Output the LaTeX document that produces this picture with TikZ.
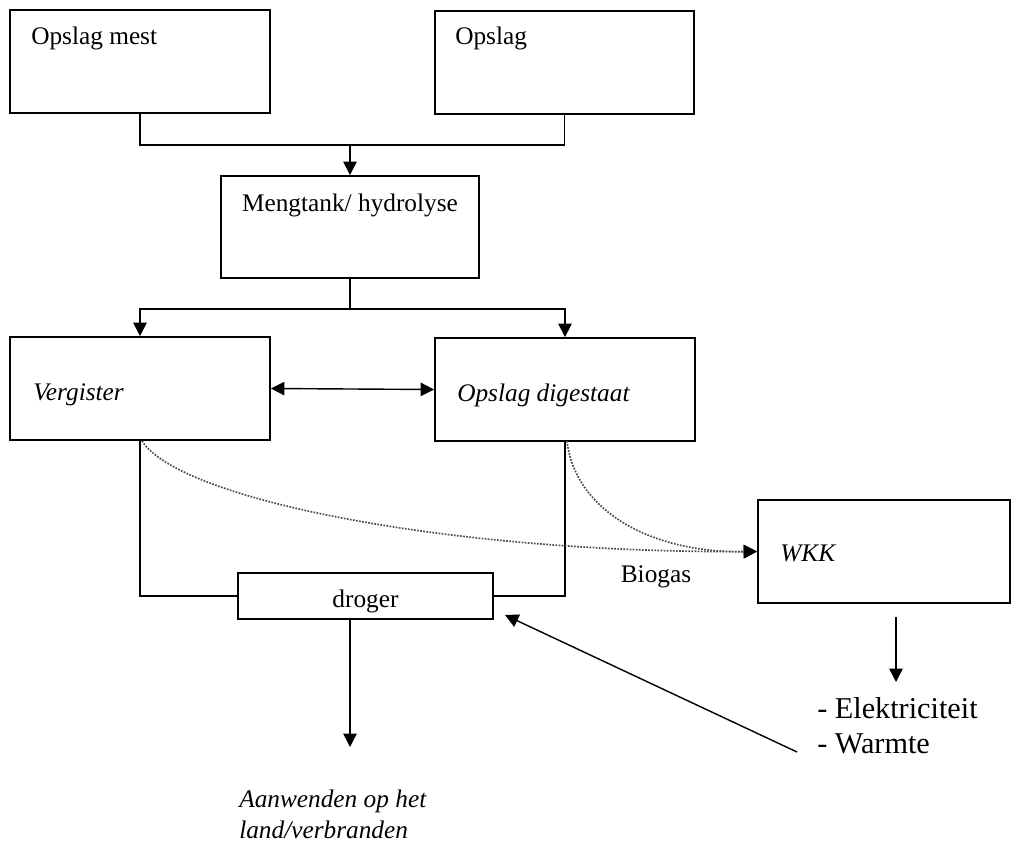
\documentclass[tikz,border=0pt]{standalone}
\usepackage{fontspec}
\setmainfont{Liberation Serif}
\usetikzlibrary{arrows.meta}

\begin{document}
\begin{tikzpicture}[
  x=0.025cm, y=-0.025cm,
  font=\fontsize{18}{22}\selectfont,
  box/.style={draw, line width=1.3pt, rectangle, minimum height=2.575cm,
              inner sep=0pt},
  txt/.style={anchor=west, inner sep=0pt},
  itxt/.style={txt, font=\fontsize{18}{22}\selectfont\itshape},
  ln/.style={line width=1pt},
  arr/.style={-{Triangle[length=9.5pt,width=9.5pt]}, line width=1pt},
  darr/.style={{Triangle[length=9.5pt,width=9.5pt]}-{Triangle[length=9.5pt,width=9.5pt]},
               line width=1pt},
  gas/.style={-{Triangle[length=9.5pt,width=9.5pt,color=black]}, densely dotted,
              black!70, line width=1.2pt},
]
  \useasboundingbox (0,0) rectangle (1011,844);

  % --- Boxes ---
  \node[box, minimum width=6.5cm] at (140,61.5) (mest) {};
  \node[box, minimum width=6.475cm] at (564.5,62.5) (opslag) {};
  \node[box, minimum width=6.45cm, minimum height=2.55cm] at (350,227) (meng) {};
  \node[box, minimum width=6.5cm] at (140,388.5) (verg) {};
  \node[box, minimum width=6.5cm] at (565,389.5) (dig) {};
  \node[box, minimum width=6.3cm] at (884,551.5) (wkk) {};
  \node[box, minimum width=6.375cm, minimum height=1.15cm] at (365.5,596) (droger) {};

  % --- Texts ---
  \node[txt] at (31,38) (tmest) {Opslag mest};
  \node[txt] at (455,38) (topslag) {Opslag};
  \node[inner sep=0pt] at (350,205) (tmeng) {Mengtank/ hydrolyse};
  \node[itxt] at (33,395) (tverg) {Vergister};
  \node[itxt] at (457,395) (tdig) {Opslag digestaat};
  \node[itxt] at (780,553) (twkk) {WKK};
  \node[inner sep=0pt] at (365.5,601) (tdroger) {droger};
  \node[inner sep=0pt] at (656,577) (biogas) {Biogas};
  \node[txt, anchor=north west, align=left,
        font=\fontsize{21.5}{25}\selectfont] at (817,697) (uitvoer)
    {- Elektriciteit\\- Warmte};
  \node[itxt, anchor=north west, align=left] at (239,790) (land)
    {Aanwenden op het\\land/verbranden};

  % --- Feed to mengtank ---
  \coordinate (jtop) at (350,145);
  \draw[ln] (mest.south) |- (jtop) -| (opslag.south);
  \draw[arr] (jtop) -- (meng.north);

  % --- Mengtank to vergister / digestaat ---
  \coordinate (jmid) at (350,309);
  \draw[ln] (meng.south) -- (jmid);
  \draw[arr] (jmid) -| (verg.north);
  \draw[arr] (jmid) -| (dig.north);
  \draw[darr] (verg.east) -- (dig.west);

  % --- To droger ---
  \draw[ln] (verg.south) |- (droger.west);
  \draw[ln] (dig.south) |- (droger.east);
  \coordinate (uit) at (350,747);
  \draw[arr] (droger.south -| uit) -- (uit);

  % --- Biogas to WKK ---
  \coordinate (gasA) at (142,441);
  \coordinate (gasB) at (567,441);
  \draw[gas] (gasA) .. controls (180,500) and (450,553) .. (wkk.west);
  \draw[gas] (gasB) .. controls (575,510) and (650,553) .. (wkk.west);

  % --- WKK output ---
  \coordinate (wkkuit) at (896,617);
  \coordinate (wkkpijl) at (896,682);
  \draw[arr] (wkkuit) -- (wkkpijl);
  \coordinate (warm) at (797,752);
  \coordinate (dtip) at (505,615);
  \draw[arr] (warm) -- (dtip);

\end{tikzpicture}
\end{document}
